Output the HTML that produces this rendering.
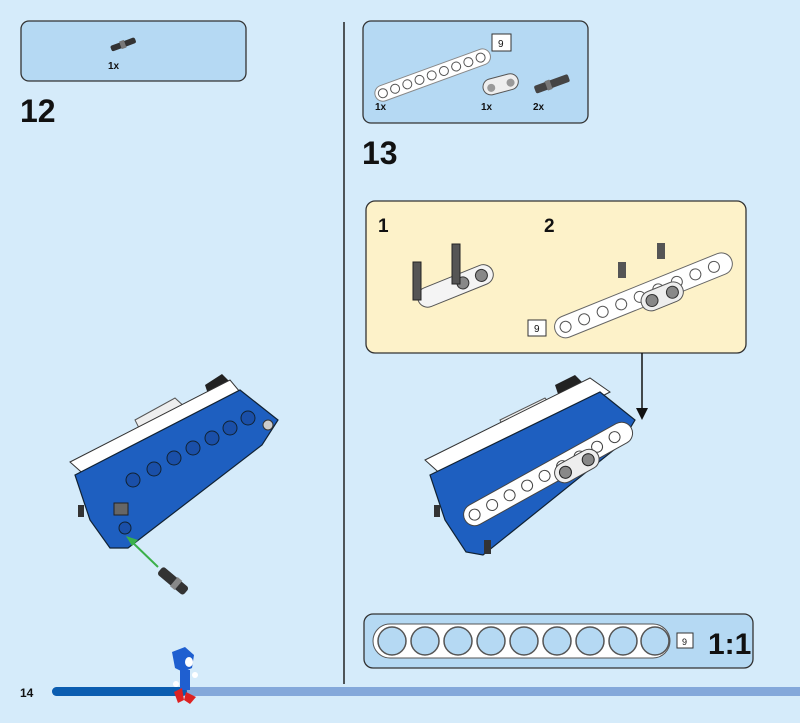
<!DOCTYPE html>
<html><head><meta charset="utf-8"><style>
body{margin:0;width:800px;height:718px;background:#d5ebfa;overflow:hidden;font-family:"Liberation Sans",sans-serif;}
</style></head><body>
<svg width="800" height="718" viewBox="0 0 800 718" xmlns="http://www.w3.org/2000/svg" font-family="Liberation Sans, sans-serif">
<rect width="800" height="718" fill="#d5ebfa"/>
<!-- divider -->
<line x1="344" y1="22" x2="344" y2="684" stroke="#222" stroke-width="1.5"/>
<!-- step 12 parts box -->
<rect x="21" y="21" width="225" height="60" rx="8" fill="#b5d9f3" stroke="#333" stroke-width="1.3"/>
<g transform="translate(110,46) rotate(-20)"><rect x="0" y="0" width="26" height="6" rx="2" fill="#333"/><rect x="10" y="-1" width="5" height="8" fill="#777"/></g>
<text x="108" y="69" font-size="10" font-weight="bold" fill="#111">1x</text>
<text x="20" y="122" font-size="32" font-weight="bold" fill="#111">12</text>
<!-- step 13 parts box -->
<rect x="363" y="21" width="225" height="102" rx="8" fill="#b5d9f3" stroke="#333" stroke-width="1.3"/>
<g transform="translate(375,95) rotate(-20)"><rect x="0" y="-7" width="122" height="16" rx="8" fill="#fff" stroke="#888"/>
<g fill="#fff" stroke="#555"><circle cx="8" cy="1" r="4.5"/><circle cx="21" cy="1" r="4.5"/><circle cx="34" cy="1" r="4.5"/><circle cx="47" cy="1" r="4.5"/><circle cx="60" cy="1" r="4.5"/><circle cx="73" cy="1" r="4.5"/><circle cx="86" cy="1" r="4.5"/><circle cx="99" cy="1" r="4.5"/><circle cx="112" cy="1" r="4.5"/></g></g>
<rect x="492" y="34" width="19" height="17" fill="#fff" stroke="#333"/><text x="498" y="47" font-size="10" fill="#111">9</text>
<g transform="translate(483,88) rotate(-15)"><rect x="0" y="-7" width="36" height="16" rx="8" fill="#eee" stroke="#555"/><circle cx="8" cy="2" r="4" fill="#999"/><circle cx="28" cy="2" r="4" fill="#999"/></g>
<g transform="translate(535,90) rotate(-20)"><rect x="0" y="-4" width="36" height="8" rx="2" fill="#444"/><rect x="12" y="-5" width="5" height="10" fill="#777"/></g>
<text x="375" y="110" font-size="10" font-weight="bold" fill="#111">1x</text>
<text x="481" y="110" font-size="10" font-weight="bold" fill="#111">1x</text>
<text x="533" y="110" font-size="10" font-weight="bold" fill="#111">2x</text>
<text x="362" y="164" font-size="32" font-weight="bold" fill="#111">13</text>
<!-- sub-step yellow -->
<rect x="366" y="201" width="380" height="152" rx="9" fill="#fdf2c9" stroke="#333" stroke-width="1.3"/>
<text x="378" y="232" font-size="19" font-weight="bold" fill="#111">1</text>
<text x="544" y="232" font-size="19" font-weight="bold" fill="#111">2</text>
<g transform="translate(418,300) rotate(-22)"><rect x="0" y="-9" width="80" height="20" rx="10" fill="#f4f4f4" stroke="#555"/><circle cx="48" cy="1" r="6" fill="#888" stroke="#333"/><circle cx="68" cy="1" r="6" fill="#888" stroke="#333"/></g>
<rect x="413" y="262" width="8" height="38" fill="#555" stroke="#222"/><rect x="452" y="244" width="8" height="40" fill="#555" stroke="#222"/>
<g transform="translate(555,330) rotate(-22)"><rect x="0" y="-10" width="190" height="22" rx="11" fill="#fff" stroke="#666"/>
<g fill="#fff" stroke="#555"><circle cx="11" cy="1" r="5.5"/><circle cx="31" cy="1" r="5.5"/><circle cx="51" cy="1" r="5.5"/><circle cx="71" cy="1" r="5.5"/><circle cx="91" cy="1" r="5.5"/><circle cx="111" cy="1" r="5.5"/><circle cx="131" cy="1" r="5.5"/><circle cx="151" cy="1" r="5.5"/><circle cx="171" cy="1" r="5.5"/></g>
<rect x="90" y="-1" width="44" height="20" rx="10" fill="#eee" stroke="#555"/><circle cx="101" cy="9" r="6" fill="#888" stroke="#333"/><circle cx="123" cy="9" r="6" fill="#888" stroke="#333"/></g>
<rect x="618" y="262" width="8" height="16" fill="#555"/><rect x="657" y="243" width="8" height="16" fill="#555"/>
<rect x="528" y="320" width="18" height="16" fill="#fff" stroke="#333"/><text x="534" y="332" font-size="10" fill="#111">9</text>
<line x1="642" y1="353" x2="642" y2="412" stroke="#111" stroke-width="1.5"/><polygon points="636,408 648,408 642,420" fill="#111"/>
<!-- left model -->
<g>
<polygon points="205,385 222,374 232,384 210,400" fill="#222"/>
<polygon points="135,420 175,398 188,410 140,430" fill="#eee" stroke="#555"/>
<polygon points="70,462 230,380 240,392 88,478" fill="#fff" stroke="#333"/>
<polygon points="75,475 240,390 278,420 262,445 128,548 110,548 90,520" fill="#1e5fc0" stroke="#123" stroke-width="1.2"/>
<g fill="#1a4fa8" stroke="#123"><circle cx="133" cy="480" r="7"/><circle cx="154" cy="469" r="7"/><circle cx="174" cy="458" r="7"/><circle cx="193" cy="448" r="7"/><circle cx="212" cy="438" r="7"/><circle cx="230" cy="428" r="7"/><circle cx="248" cy="418" r="7"/><circle cx="125" cy="528" r="6"/></g>
<circle cx="268" cy="425" r="5" fill="#ccc" stroke="#333"/>
<rect x="114" y="503" width="14" height="12" fill="#666" stroke="#222"/>
<rect x="78" y="505" width="6" height="12" fill="#333"/>
<line x1="130" y1="540" x2="158" y2="567" stroke="#3bb04a" stroke-width="2"/><polygon points="126,536 138,540 132,546" fill="#3bb04a"/>
<g transform="translate(160,570) rotate(40)"><rect x="0" y="-5" width="34" height="10" rx="3" fill="#333"/><rect x="18" y="-6" width="6" height="12" fill="#888"/></g>
</g>
<!-- right model -->
<g>
<polygon points="555,385 575,375 588,388 560,400" fill="#222"/>
<polygon points="500,420 545,398 555,410 505,430" fill="#eee" stroke="#555"/>
<polygon points="425,460 590,378 610,392 445,478" fill="#fff" stroke="#333"/>
<polygon points="430,475 600,392 635,420 620,445 483,555 466,552 445,520" fill="#1e5fc0" stroke="#123" stroke-width="1.2"/>
<g transform="translate(465,520) rotate(-29)"><rect x="0" y="-11" width="190" height="22" rx="11" fill="#fff" stroke="#444"/>
<g fill="#fff" stroke="#444"><circle cx="11" cy="0" r="5.5"/><circle cx="31" cy="0" r="5.5"/><circle cx="51" cy="0" r="5.5"/><circle cx="71" cy="0" r="5.5"/><circle cx="91" cy="0" r="5.5"/><circle cx="111" cy="0" r="5.5"/><circle cx="131" cy="0" r="5.5"/><circle cx="151" cy="0" r="5.5"/><circle cx="171" cy="0" r="5.5"/></g>
<rect x="100" y="-3" width="48" height="20" rx="10" fill="#eee" stroke="#444"/><circle cx="111" cy="7" r="6" fill="#888" stroke="#222"/><circle cx="137" cy="7" r="6" fill="#888" stroke="#222"/></g>
<rect x="484" y="540" width="7" height="14" fill="#333"/><rect x="434" y="505" width="6" height="12" fill="#333"/>
</g>
<!-- 1:1 box -->
<rect x="364" y="614" width="389" height="54" rx="9" fill="#b5d9f3" stroke="#333" stroke-width="1.3"/>
<rect x="373" y="624" width="297" height="34" rx="17" fill="#fff" stroke="#555"/>
<g fill="#b5d9f3" stroke="#555" stroke-width="1.5"><circle cx="392" cy="641" r="14"/><circle cx="425" cy="641" r="14"/><circle cx="458" cy="641" r="14"/><circle cx="491" cy="641" r="14"/><circle cx="524" cy="641" r="14"/><circle cx="557" cy="641" r="14"/><circle cx="590" cy="641" r="14"/><circle cx="623" cy="641" r="14"/><circle cx="655" cy="641" r="14"/></g>
<rect x="677" y="633" width="16" height="15" fill="#fff" stroke="#333"/><text x="682" y="645" font-size="9" fill="#111">9</text>
<text x="708" y="654" font-size="30" font-weight="bold" fill="#111">1:1</text>
<!-- footer -->
<text x="20" y="697" font-size="12" font-weight="bold" fill="#111">14</text>
<rect x="52" y="687" width="760" height="9" rx="4.5" fill="#84a8da"/>
<rect x="52" y="687" width="135" height="9" rx="4.5" fill="#0b5db0"/>
<!-- sonic -->
<path d="M172 652 L185 647 L194 655 L192 668 L183 672 L175 668 Z" fill="#1f5fd0"/>
<ellipse cx="189" cy="662" rx="4" ry="5" fill="#fff"/>
<rect x="180" y="670" width="10" height="20" fill="#1f5fd0"/>
<circle cx="176" cy="684" r="3" fill="#fff"/><circle cx="195" cy="675" r="3" fill="#fff"/>
<polygon points="174,692 182,688 184,700 178,703" fill="#d22"/><polygon points="186,692 196,697 190,704 184,700" fill="#d22"/>
</svg>
</body></html>
